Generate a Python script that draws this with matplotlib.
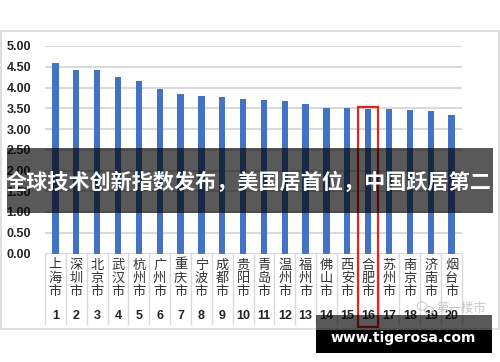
import matplotlib
matplotlib.use("Agg")
import matplotlib.pyplot as plt
from matplotlib.patches import Rectangle, Ellipse
from matplotlib.lines import Line2D
import matplotlib.transforms as mtransforms

cities = ["上海市", "深圳市", "北京市", "武汉市", "杭州市", "广州市", "重庆市", "宁波市", "成都市", "贵阳市",
          "青岛市", "温州市", "福州市", "佛山市", "西安市", "合肥市", "苏州市", "南京市", "济南市", "烟台市"]
ranks = [str(i) for i in range(1, 21)]
values = [4.59, 4.42, 4.42, 4.26, 4.16, 3.97, 3.85, 3.79, 3.76, 3.72,
          3.69, 3.68, 3.61, 3.50, 3.50, 3.48, 3.47, 3.45, 3.43, 3.34]
yticks = [0.0, 0.5, 1.0, 1.5, 2.0, 2.5, 3.0, 3.5, 4.0, 4.5, 5.0]
highlight = 15
banner_title = "全球技术创新指数发布，美国居首位，中国跃居第二"
site = "www.tigerosa.com"
watermark = "第一楼市"

W, H = 500, 362
def fx(x): return x / W
def fy(y): return 1 - y / H

fig = plt.figure(figsize=(5.0, 3.62), dpi=100)
fig.patch.set_facecolor("white")

# outer frame
fig.add_artist(Rectangle((fx(0.5), fy(329)), fx(498.5) - fx(0.5), fy(31) - fy(329),
                         transform=fig.transFigure, fill=False, edgecolor="#d9d9d9", lw=1.2))

ax = fig.add_axes([fx(45), fy(253.5), fx(462) - fx(45), fy(46) - fy(253.5)])
x = list(range(len(values)))
ax.bar(x, values, width=0.3, color="#4472C4", zorder=3)
ax.set_xlim(-0.5, len(values) - 0.5)
ax.set_ylim(0, 5.0)
ax.set_yticks(yticks)
ax.set_yticklabels([f"{v:.2f}" for v in yticks], fontsize=9, fontweight="bold",
                   family="Liberation Sans", color="#262626")
ax.tick_params(axis="y", length=0, pad=10)
ax.set_xticks([])
for s in ax.spines.values():
    s.set_visible(False)
ax.grid(axis="y", color="#d9d9d9", lw=1.5, zorder=0)
ax.set_axisbelow(True)

trans = mtransforms.blended_transform_factory(ax.transData, ax.transAxes)
bottom = -(324 - 253.5) / (253.5 - 46)
for k in range(len(values) + 1):
    ax.add_line(Line2D([k - 0.5, k - 0.5], [0, bottom], transform=trans, color="#d9d9d9",
                       lw=1.0, clip_on=False))

cjk = ["Noto Sans CJK SC", "DejaVu Sans"]
ppa = 253.5 - 46
for i, c in enumerate(cities):
    for j, ch in enumerate(c):
        yy = -(265 + 13.3 * j - 253.5) / ppa
        ax.text(i, yy, ch, transform=trans, ha="center", va="center", fontsize=9.5,
                family=cjk, color="#333333")
    ax.text(i, -(316 - 253.5) / ppa, ranks[i], transform=trans, ha="center", va="center",
            fontsize=9, fontweight="bold", family="Liberation Sans", color="#222222")

# highlight rectangle
top_v = values[highlight] + 0.04
bot_ax = -(326.7 - 253.5) / ppa
top_ax = top_v / 5.0
ax.add_patch(Rectangle((highlight - 0.49, bot_ax), 0.98, top_ax - bot_ax, transform=trans,
                       fill=False, edgecolor="#e8231e", lw=1.6, clip_on=False, zorder=5))

# watermark
fig.text(fx(461), fy(308), watermark, ha="center", va="center", fontsize=9,
         family=cjk, color="#c8c8c8")
fig.add_artist(Ellipse((fx(422), fy(306)), fx(10), fy(0) - fy(8),
                       transform=fig.transFigure, fill=False, edgecolor="#d0d0d0", lw=0.8))
fig.add_artist(Ellipse((fx(429), fy(310)), fx(9), fy(0) - fy(7),
                       transform=fig.transFigure, fill=False, edgecolor="#d0d0d0", lw=0.8))

# title banner
fig.add_artist(Rectangle((fx(7), fy(212.7)), fx(493) - fx(7), fy(148.5) - fy(212.7),
                         transform=fig.transFigure, facecolor="black", alpha=0.65,
                         edgecolor="none", zorder=10))
fig.text(fx(249), fy(182), banner_title, ha="center", va="center", fontsize=15.2,
         fontweight="bold", family=cjk, color="white", zorder=11)

# bottom site banner
fig.add_artist(Rectangle((fx(316), fy(330)), fx(492) - fx(316), fy(315) - fy(330),
                         transform=fig.transFigure, facecolor="black", alpha=0.65,
                         edgecolor="none", zorder=10))
fig.add_artist(Rectangle((fx(316), fy(353)), fx(492) - fx(316), fy(330) - fy(353),
                         transform=fig.transFigure, facecolor="black",
                         edgecolor="none", zorder=10))
fig.text(fx(403), fy(338), site, ha="center", va="center", fontsize=10,
         fontweight="bold", family="DejaVu Sans", color="white", zorder=11)

fig.savefig("out.png", dpi=100, facecolor="white")
